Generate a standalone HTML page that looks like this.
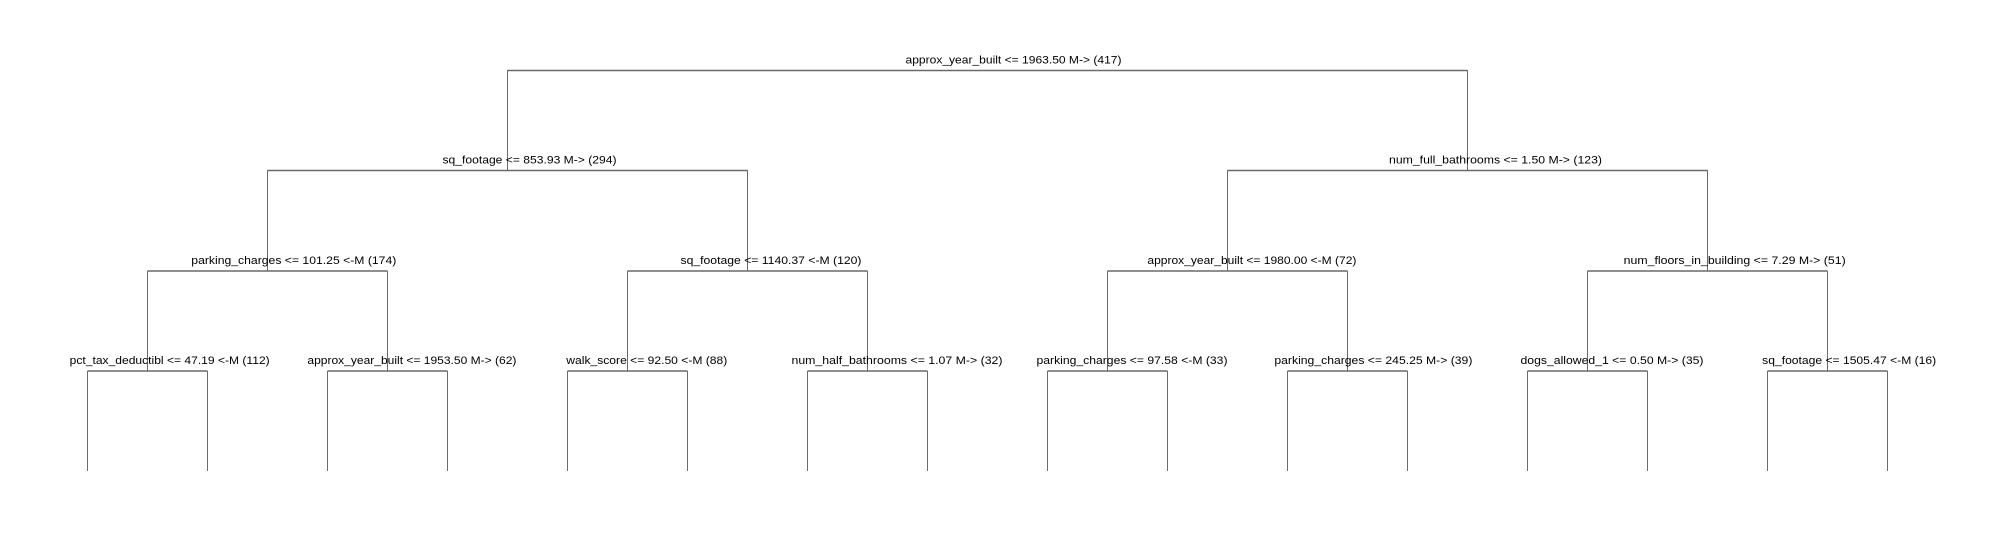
<!DOCTYPE html>
<html><head><meta charset="utf-8"><style>
html,body{margin:0;padding:0;background:#fff;}
svg{display:block;}
text{font-family:"Liberation Sans",Arial,sans-serif;font-size:11px;fill:#000;}
.h{stroke:#6a6a6a;stroke-width:1.6;fill:none;}
.v{stroke:#6a6a6a;stroke-width:1;fill:none;}
</style></head><body>
<svg width="2005" height="540" viewBox="0 0 2005 540" xmlns="http://www.w3.org/2000/svg">
<line class="h" x1="507.5" y1="70.5" x2="1467.5" y2="70.5"/>
<line class="v" x1="507.5" y1="70" x2="507.5" y2="170"/>
<line class="v" x1="1467.5" y1="70" x2="1467.5" y2="170"/>
<line class="h" x1="267.5" y1="170.5" x2="747.5" y2="170.5"/>
<line class="v" x1="267.5" y1="170" x2="267.5" y2="271"/>
<line class="v" x1="747.5" y1="170" x2="747.5" y2="271"/>
<line class="h" x1="1227.5" y1="170.5" x2="1707.5" y2="170.5"/>
<line class="v" x1="1227.5" y1="170" x2="1227.5" y2="271"/>
<line class="v" x1="1707.5" y1="170" x2="1707.5" y2="271"/>
<line class="h" x1="147.5" y1="271" x2="387.5" y2="271"/>
<line class="v" x1="147.5" y1="271" x2="147.5" y2="371"/>
<line class="v" x1="387.5" y1="271" x2="387.5" y2="371"/>
<line class="h" x1="627.5" y1="271" x2="867.5" y2="271"/>
<line class="v" x1="627.5" y1="271" x2="627.5" y2="371"/>
<line class="v" x1="867.5" y1="271" x2="867.5" y2="371"/>
<line class="h" x1="1107.5" y1="271" x2="1347.5" y2="271"/>
<line class="v" x1="1107.5" y1="271" x2="1107.5" y2="371"/>
<line class="v" x1="1347.5" y1="271" x2="1347.5" y2="371"/>
<line class="h" x1="1587.5" y1="271" x2="1827.5" y2="271"/>
<line class="v" x1="1587.5" y1="271" x2="1587.5" y2="371"/>
<line class="v" x1="1827.5" y1="271" x2="1827.5" y2="371"/>
<g>
<line class="h" x1="87.5" y1="371" x2="207.5" y2="371"/><line class="v" x1="87.5" y1="371" x2="87.5" y2="471"/><line class="v" x1="207.5" y1="371" x2="207.5" y2="471"/>
<line class="h" x1="327.5" y1="371" x2="447.5" y2="371"/><line class="v" x1="327.5" y1="371" x2="327.5" y2="471"/><line class="v" x1="447.5" y1="371" x2="447.5" y2="471"/>
<line class="h" x1="567.5" y1="371" x2="687.5" y2="371"/><line class="v" x1="567.5" y1="371" x2="567.5" y2="471"/><line class="v" x1="687.5" y1="371" x2="687.5" y2="471"/>
<line class="h" x1="807.5" y1="371" x2="927.5" y2="371"/><line class="v" x1="807.5" y1="371" x2="807.5" y2="471"/><line class="v" x1="927.5" y1="371" x2="927.5" y2="471"/>
<line class="h" x1="1047.5" y1="371" x2="1167.5" y2="371"/><line class="v" x1="1047.5" y1="371" x2="1047.5" y2="471"/><line class="v" x1="1167.5" y1="371" x2="1167.5" y2="471"/>
<line class="h" x1="1287.5" y1="371" x2="1407.5" y2="371"/><line class="v" x1="1287.5" y1="371" x2="1287.5" y2="471"/><line class="v" x1="1407.5" y1="371" x2="1407.5" y2="471"/>
<line class="h" x1="1527.5" y1="371" x2="1647.5" y2="371"/><line class="v" x1="1527.5" y1="371" x2="1527.5" y2="471"/><line class="v" x1="1647.5" y1="371" x2="1647.5" y2="471"/>
<line class="h" x1="1767.5" y1="371" x2="1887.5" y2="371"/><line class="v" x1="1767.5" y1="371" x2="1767.5" y2="471"/><line class="v" x1="1887.5" y1="371" x2="1887.5" y2="471"/>
</g>
<text x="905.5" y="63.5" textLength="216" lengthAdjust="spacingAndGlyphs">approx_year_built &lt;= 1963.50 M-&gt; (417)</text>
<text x="442.5" y="163.5" textLength="174" lengthAdjust="spacingAndGlyphs">sq_footage &lt;= 853.93 M-&gt; (294)</text>
<text x="1389" y="163.5" textLength="213" lengthAdjust="spacingAndGlyphs">num_full_bathrooms &lt;= 1.50 M-&gt; (123)</text>
<text x="191.3" y="264" textLength="205" lengthAdjust="spacingAndGlyphs">parking_charges &lt;= 101.25 &lt;-M (174)</text>
<text x="680.5" y="264" textLength="181" lengthAdjust="spacingAndGlyphs">sq_footage &lt;= 1140.37 &lt;-M (120)</text>
<text x="1147.4" y="264" textLength="209" lengthAdjust="spacingAndGlyphs">approx_year_built &lt;= 1980.00 &lt;-M (72)</text>
<text x="1623.7" y="264" textLength="222" lengthAdjust="spacingAndGlyphs">num_floors_in_building &lt;= 7.29 M-&gt; (51)</text>
<text x="69.7" y="364" textLength="200" lengthAdjust="spacingAndGlyphs">pct_tax_deductibl &lt;= 47.19 &lt;-M (112)</text>
<text x="307.4" y="364" textLength="209" lengthAdjust="spacingAndGlyphs">approx_year_built &lt;= 1953.50 M-&gt; (62)</text>
<text x="566.3" y="364" textLength="161" lengthAdjust="spacingAndGlyphs">walk_score &lt;= 92.50 &lt;-M (88)</text>
<text x="791.5" y="364" textLength="211" lengthAdjust="spacingAndGlyphs">num_half_bathrooms &lt;= 1.07 M-&gt; (32)</text>
<text x="1036.5" y="364" textLength="191" lengthAdjust="spacingAndGlyphs">parking_charges &lt;= 97.58 &lt;-M (33)</text>
<text x="1274.4" y="364" textLength="198" lengthAdjust="spacingAndGlyphs">parking_charges &lt;= 245.25 M-&gt; (39)</text>
<text x="1520.5" y="364" textLength="183" lengthAdjust="spacingAndGlyphs">dogs_allowed_1 &lt;= 0.50 M-&gt; (35)</text>
<text x="1762.2" y="364" textLength="174" lengthAdjust="spacingAndGlyphs">sq_footage &lt;= 1505.47 &lt;-M (16)</text>
</svg>
</body></html>
